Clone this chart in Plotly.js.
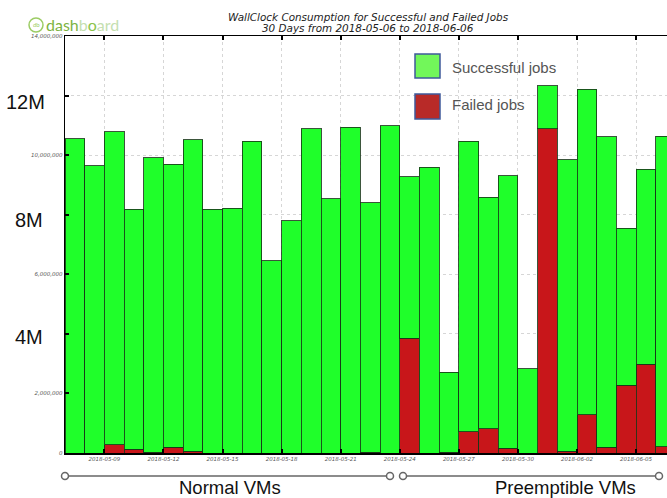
<!DOCTYPE html>
<html><head><meta charset="utf-8">
<script src="https://cdn.plot.ly/plotly-3.0.1.min.js"></script>
<style>html,body{margin:0;padding:0;background:#fff}#chart{width:667px;height:498px}</style>
</head><body><div id="chart"></div>
<script>
const days = ['2018-05-07','2018-05-08','2018-05-09','2018-05-10','2018-05-11','2018-05-12','2018-05-13','2018-05-14','2018-05-15','2018-05-16','2018-05-17','2018-05-18','2018-05-19','2018-05-20','2018-05-21','2018-05-22','2018-05-23','2018-05-24','2018-05-25','2018-05-26','2018-05-27','2018-05-28','2018-05-29','2018-05-30','2018-05-31','2018-06-01','2018-06-02','2018-06-03','2018-06-04','2018-06-05','2018-06-06'];
const successful = [10550000, 9650000, 10520000, 8070000, 9880000, 9500000, 10460000, 8190000, 8220000, 10470000, 6450000, 7790000, 10890000, 8530000, 10930000, 8370000, 10980000, 5420000, 9590000, 2690000, 9750000, 7770000, 9150000, 2830000, 1450000, 9790000, 10940000, 10420000, 5280000, 6550000, 10430000];
const failed = [0, 0, 270000, 120000, 30000, 190000, 60000, 0, 0, 0, 0, 0, 0, 0, 0, 30000, 0, 3850000, 0, 20000, 720000, 820000, 160000, 0, 10880000, 60000, 1280000, 200000, 2270000, 2980000, 210000];
const yTickVals = [0, 2000000, 4000000, 6000000, 8000000, 10000000, 12000000, 14000000];
const yTickText = ['0', '2,000,000', '', '6,000,000', '', '10,000,000', '', '14,000,000'];
const xTickVals = ['2018-05-09','2018-05-12','2018-05-15','2018-05-18','2018-05-21','2018-05-24','2018-05-27','2018-05-30','2018-06-02','2018-06-05'];
const bigYLabels = ['12M', '8M', '4M'];
const legendLabels = ['Successful jobs', 'Failed jobs'];
const groupLabels = ['Normal VMs', 'Preemptible VMs'];
const titleLines = ['WallClock Consumption for Successful and Failed Jobs', '30 Days from 2018-05-06 to 2018-06-06'];

const DAY = 86400000;
const L = 65, T = 36, W = 602, H = 417;
const px = x => (x - L) / W;
const py = y => (453 - y) / H;

const barLine = {color: 'rgba(25,55,25,0.85)', width: 1};
const traces = [
  {type: 'bar', name: 'Failed jobs', x: days, y: failed, width: DAY, offset: 0,
   marker: {color: '#c8161a', line: barLine}},
  {type: 'bar', name: 'Successful jobs', x: days, y: successful, width: DAY, offset: 0,
   marker: {color: '#1fff2a', line: barLine}}
];

const small = {family: 'DejaVu Sans', size: 5.5, color: '#555', style: 'italic'};

const shapes = [
  {type: 'rect', xref: 'paper', yref: 'paper', x0: px(415), x1: px(440), y0: py(78), y1: py(54),
   fillcolor: '#72f75a', line: {color: '#3f5a9a', width: 1.5}},
  {type: 'rect', xref: 'paper', yref: 'paper', x0: px(415), x1: px(440), y0: py(119), y1: py(94),
   fillcolor: '#b82a28', line: {color: '#3f5a9a', width: 1.5}},
  {type: 'line', xref: 'paper', yref: 'paper', x0: px(65), x1: px(390), y0: py(476), y1: py(476),
   line: {color: '#666', width: 1.5}},
  {type: 'line', xref: 'paper', yref: 'paper', x0: px(403), x1: px(659), y0: py(476), y1: py(476),
   line: {color: '#666', width: 1.5}}
];
[65, 390, 403, 659].forEach(xx => {
  shapes.push({type: 'circle', xref: 'paper', yref: 'paper', xsizemode: 'pixel', ysizemode: 'pixel',
    xanchor: px(xx), yanchor: py(476), x0: -3.5, x1: 3.5, y0: -3.5, y1: 3.5,
    fillcolor: '#fff', line: {color: '#666', width: 1.5}});
});
shapes.push({type: 'circle', xref: 'paper', yref: 'paper', xsizemode: 'pixel', ysizemode: 'pixel',
  xanchor: px(36), yanchor: py(25), x0: -7, x1: 7, y0: -7, y1: 7,
  fillcolor: 'rgba(0,0,0,0)', line: {color: '#9ccc65', width: 1.5}});

const bigFont = {family: 'Liberation Sans, Arial', size: 20, color: '#111'};
const titleFont = {family: 'DejaVu Sans', size: 10.4, color: '#222', style: 'italic'};
const annotations = [
  {xref: 'paper', yref: 'paper', x: px(368), y: py(16.5), text: titleLines[0], showarrow: false, xanchor: 'center', yanchor: 'middle', font: titleFont},
  {xref: 'paper', yref: 'paper', x: px(368), y: py(28.5), text: titleLines[1], showarrow: false, xanchor: 'center', yanchor: 'middle', font: titleFont},
  {xref: 'paper', yref: 'paper', x: px(47), y: py(102), text: bigYLabels[0], showarrow: false, xanchor: 'right', yanchor: 'middle', font: bigFont},
  {xref: 'paper', yref: 'paper', x: px(45), y: py(220), text: bigYLabels[1], showarrow: false, xanchor: 'right', yanchor: 'middle', font: bigFont},
  {xref: 'paper', yref: 'paper', x: px(45), y: py(337), text: bigYLabels[2], showarrow: false, xanchor: 'right', yanchor: 'middle', font: bigFont},
  {xref: 'paper', yref: 'paper', x: px(450), y: py(68), text: legendLabels[0], showarrow: false, xanchor: 'left', yanchor: 'middle',
   font: {family: 'Liberation Sans, Arial', size: 15, color: '#555'}},
  {xref: 'paper', yref: 'paper', x: px(450), y: py(105), text: legendLabels[1], showarrow: false, xanchor: 'left', yanchor: 'middle',
   font: {family: 'Liberation Sans, Arial', size: 15, color: '#555'}},
  {xref: 'paper', yref: 'paper', x: px(230), y: py(487), text: groupLabels[0], showarrow: false, xanchor: 'center', yanchor: 'middle',
   font: {family: 'Liberation Sans, Arial', size: 18.5, color: '#111'}},
  {xref: 'paper', yref: 'paper', x: px(565), y: py(487), text: groupLabels[1], showarrow: false, xanchor: 'center', yanchor: 'middle',
   font: {family: 'Liberation Sans, Arial', size: 18.5, color: '#111'}},
  {xref: 'paper', yref: 'paper', x: px(44), y: py(25), showarrow: false, xanchor: 'left', yanchor: 'middle',
   text: '<span style="color:#7cb342">dash</span><span style="color:#c5dfb0">b</span><span style="color:#8bc34a">o</span><span style="color:#c5dfb0">ard</span>',
   font: {family: 'Lato', size: 16}},
  {xref: 'paper', yref: 'paper', x: px(36), y: py(25), showarrow: false, xanchor: 'center', yanchor: 'middle',
   text: 'db', font: {family: 'Lato', size: 6, color: '#9ccc65'}}
];

const layout = {
  width: 667, height: 498,
  margin: {l: L, r: 0, t: T, b: 498 - T - H},
  paper_bgcolor: '#fff', plot_bgcolor: '#fff',
  barmode: 'stack', bargap: 0, showlegend: false, hovermode: false,
  xaxis: {type: 'date', range: ['2018-05-07', '2018-06-06 13:40'],
    tickvals: xTickVals, ticktext: xTickVals, tickfont: small,
    ticks: 'inside', ticklen: 4, tickwidth: 2, tickcolor: '#000',
    showline: true, linecolor: '#000', linewidth: 1.5, mirror: 'ticks',
    showgrid: true, gridcolor: '#d6d6d6', griddash: 'dot', gridwidth: 1, zeroline: false},
  yaxis: {range: [0, 14000000], tickvals: yTickVals, ticktext: yTickText, tickfont: small,
    ticks: 'inside', ticklen: 4, tickwidth: 2, tickcolor: '#000',
    showline: true, linecolor: '#000', linewidth: 1.5,
    showgrid: true, gridcolor: '#d6d6d6', griddash: 'dot', gridwidth: 1, zeroline: false},
  shapes: shapes, annotations: annotations
};

Plotly.newPlot('chart', traces, layout, {displayModeBar: false, staticPlot: true});
</script>
</body></html>
